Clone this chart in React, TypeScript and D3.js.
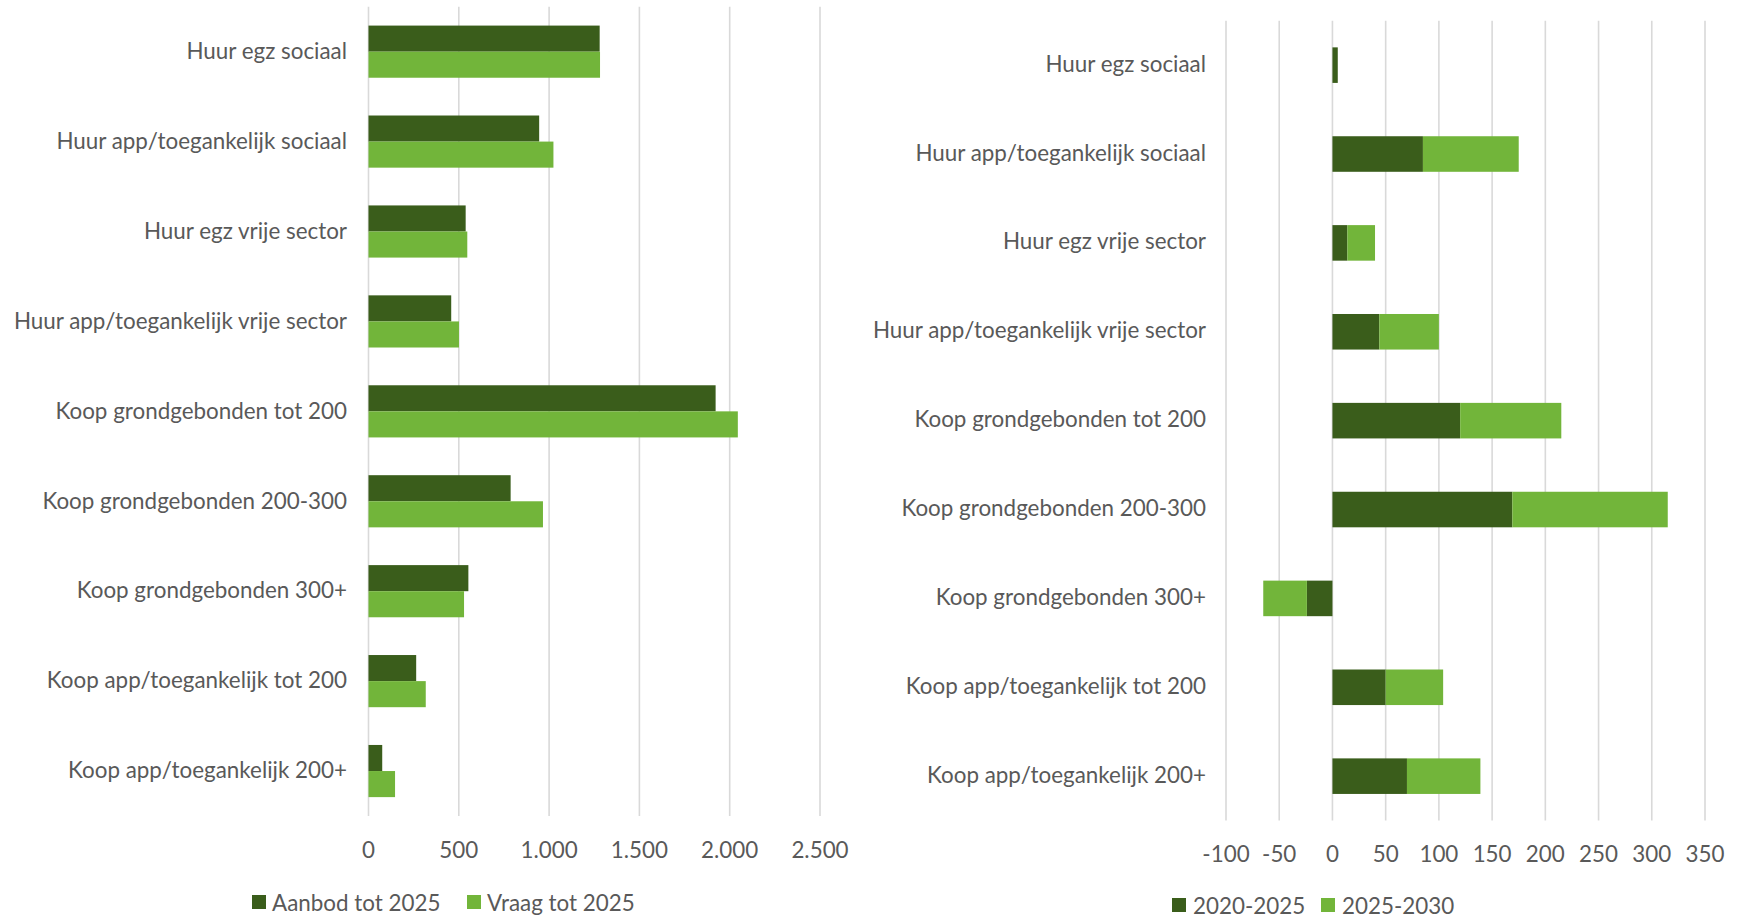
import React from "react";
import * as d3 from "d3";

const categories = [
  "Huur egz sociaal",
  "Huur app/toegankelijk sociaal",
  "Huur egz vrije sector",
  "Huur app/toegankelijk vrije sector",
  "Koop grondgebonden tot 200",
  "Koop grondgebonden 200-300",
  "Koop grondgebonden 300+",
  "Koop app/toegankelijk tot 200",
  "Koop app/toegankelijk 200+",
];

const leftSeries = ["Aanbod tot 2025", "Vraag tot 2025"];
const aanbod = [1280, 945, 538, 458, 1922, 787, 553, 264, 76];
const vraag = [1282, 1024, 547, 501, 2045, 966, 529, 317, 147];
const leftTicks = [0, 500, 1000, 1500, 2000, 2500];

const rightSeries = ["2020-2025", "2025-2030"];
const p2020 = [5, 85, 14, 44, 120, 169, -24, 50, 70];
const p2025 = [0, 90, 26, 56, 95, 146, -41, 54, 69];
const rightTicks = [-100, -50, 0, 50, 100, 150, 200, 250, 300, 350];

const DARK = "#3A5D1B";
const LIGHT = "#72B53A";
const GRID = "#D9D9D9";
const TEXT = "#595959";
const FONT = "Lato, 'Open Sans', sans-serif";
const FS = 22.4;

const nl = d3.formatLocale({
  decimal: ",",
  thousands: ".",
  grouping: [3],
  currency: ["€", ""],
  minus: "-",
});
const fmt = nl.format(",d");

function LeftChart() {
  const x = d3.scaleLinear().domain([0, 2500]).range([368.5, 820]);
  const y0 = d3
    .scaleBand<string>()
    .domain(categories)
    .range([6.7, 816])
    .paddingInner(0.42)
    .paddingOuter(0.21);
  const y1 = d3
    .scaleBand<string>()
    .domain(leftSeries)
    .range([0, y0.bandwidth()]);
  const vals = [aanbod, vraag];
  const colors = [DARK, LIGHT];
  const top = 6.7;
  const bottom = 816;
  return (
    <g>
      {leftTicks.map((t) => (
        <line
          key={"g" + t}
          x1={x(t)}
          x2={x(t)}
          y1={top}
          y2={bottom}
          stroke={GRID}
          strokeWidth={1.6}
        />
      ))}
      {categories.map((c, i) => (
        <g key={c}>
          {leftSeries.map((s, j) => (
            <rect
              key={s}
              x={x(0)}
              y={(y0(c) as number) + (y1(s) as number)}
              width={x(vals[j][i]) - x(0)}
              height={y1.bandwidth()}
              fill={colors[j]}
            />
          ))}
          <text
            x={347}
            y={(y0(c) as number) + y0.bandwidth() / 2 - 1.2}
            textAnchor="end"
            dominantBaseline="central"
            fontFamily={FONT}
            fontSize={FS}
            fill={TEXT}
          >
            {c}
          </text>
        </g>
      ))}
      {leftTicks.map((t) => (
        <text
          key={"t" + t}
          x={x(t)}
          y={849}
          textAnchor="middle"
          dominantBaseline="central"
          fontFamily={FONT}
          fontSize={FS}
          fill={TEXT}
        >
          {fmt(t)}
        </text>
      ))}
      {leftSeries.map((s, j) => {
        const sx = [252, 467][j];
        return (
          <g key={s}>
            <rect x={sx} y={895} width={14} height={14} fill={colors[j]} />
            <text
              x={sx + 20}
              y={902}
              dominantBaseline="central"
              fontFamily={FONT}
              fontSize={FS}
              fill={TEXT}
            >
              {s}
            </text>
          </g>
        );
      })}
    </g>
  );
}

function RightChart() {
  const x = d3.scaleLinear().domain([-100, 350]).range([1226, 1705]);
  const top = 20.7;
  const bottom = 820.6;
  const y = d3
    .scaleBand<string>()
    .domain(categories)
    .range([top, bottom])
    .paddingInner(0.6)
    .paddingOuter(0.3);
  const table = categories.map((c, i) => ({
    cat: c,
    [rightSeries[0]]: p2020[i],
    [rightSeries[1]]: p2025[i],
  }));
  const stacked = d3
    .stack<any>()
    .keys(rightSeries)
    .offset(d3.stackOffsetDiverging)(table);
  const colors = [DARK, LIGHT];
  return (
    <g>
      {rightTicks.map((t) => (
        <line
          key={"g" + t}
          x1={x(t)}
          x2={x(t)}
          y1={top}
          y2={bottom}
          stroke={GRID}
          strokeWidth={1.6}
        />
      ))}
      {stacked.map((layer, j) => (
        <g key={layer.key}>
          {layer.map((d, i) => {
            const x0 = x(Math.min(d[0], d[1]));
            const x1v = x(Math.max(d[0], d[1]));
            return (
              <rect
                key={i}
                x={x0}
                y={y(categories[i]) as number}
                width={x1v - x0}
                height={y.bandwidth()}
                fill={colors[j]}
              />
            );
          })}
        </g>
      ))}
      {categories.map((c) => (
        <text
          key={c}
          x={1206}
          y={(y(c) as number) + y.bandwidth() / 2 - 2}
          textAnchor="end"
          dominantBaseline="central"
          fontFamily={FONT}
          fontSize={FS}
          fill={TEXT}
        >
          {c}
        </text>
      ))}
      {rightTicks.map((t) => (
        <text
          key={"t" + t}
          x={x(t)}
          y={853}
          textAnchor="middle"
          dominantBaseline="central"
          fontFamily={FONT}
          fontSize={FS}
          fill={TEXT}
        >
          {fmt(t)}
        </text>
      ))}
      {rightSeries.map((s, j) => {
        const sx = [1172, 1321][j];
        return (
          <g key={s}>
            <rect x={sx} y={898} width={14} height={14} fill={colors[j]} />
            <text
              x={sx + 21}
              y={905}
              dominantBaseline="central"
              fontFamily={FONT}
              fontSize={FS}
              fill={TEXT}
            >
              {s}
            </text>
          </g>
        );
      })}
    </g>
  );
}

export default function App() {
  return (
    <svg
      width={1739}
      height={917}
      viewBox="0 0 1739 917"
      style={{ position: "absolute", left: 0, top: 0, background: "#fff" }}
    >
      <rect x={0} y={0} width={1739} height={917} fill="#fff" />
      <LeftChart />
      <RightChart />
    </svg>
  );
}
